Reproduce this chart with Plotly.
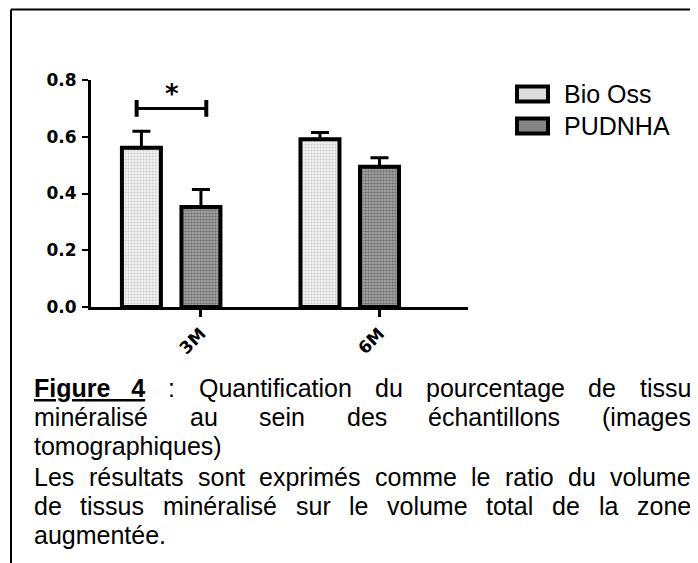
import plotly.graph_objects as go

# ---------------- data ----------------
groups = ["3M", "6M"]
series_names = ["Bio Oss", "PUDNHA"]
bio_oss_mean = [0.561, 0.591]
bio_oss_err = [0.058, 0.024]
pudnha_mean = [0.352, 0.494]
pudnha_err = [0.062, 0.032]
y_tick_vals = [0.0, 0.2, 0.4, 0.6, 0.8]
y_tick_text = ["0.0", "0.2", "0.4", "0.6", "0.8"]
sig_group = 0          # index of group with the significance bracket
sig_level = 0.70
sig_label = "*"

caption_lines = [
    (["Figure 4", ":", "Quantification", "du", "pourcentage", "de", "tissu"], True),
    (["minéralisé", "au", "sein", "des", "échantillons", "(images"], True),
    (["tomographiques)"], False),
    (["Les", "résultats", "sont", "exprimés", "comme", "le", "ratio", "du", "volume"], True),
    (["de", "tissus", "minéralisé", "sur", "le", "volume", "total", "de", "la", "zone"], True),
    (["augmentée."], False),
]

# ---------------- layout geometry (page pixels of the reference) ----------------
W, H = 698, 563
OFF = 8                                  # page body margin of the html output
RL, RR, RT, RB = 91, 468, 80, 307        # plot area edges in page pixels
PL, PR, PT, PB = RL - OFF, RR - OFF, RT - OFF, RB - OFF
GROUP_STEP = 3.0                         # x units between groups
X_MIN, X_MAX = -0.847, 5.487
BAR_W = 0.655


def px_x(p):
    return (p - OFF - PL) / (PR - PL)


def px_y(p):
    return (PB - (p - OFF)) / (PB - PT)


series_means = [bio_oss_mean, pudnha_mean]
series_errs = [bio_oss_err, pudnha_err]
patterns = [
    dict(shape=".", size=3, solidity=0.4, fgcolor="#a8a8a8", bgcolor="#f2f2f2"),
    dict(shape=".", size=3, solidity=0.55, fgcolor="#363636", bgcolor="#b0b0b0"),
]

fig = go.Figure()
for si, name in enumerate(series_names):
    xs = [gi * GROUP_STEP + si for gi in range(len(groups))]
    fig.add_trace(go.Bar(
        x=xs, y=series_means[si], name=name, width=BAR_W,
        marker=dict(color="#cccccc", pattern=patterns[si],
                    line=dict(color="black", width=4)),
        error_y=dict(type="data", array=series_errs[si],
                     arrayminus=[0] * len(groups), symmetric=False,
                     color="black", thickness=3, width=9),
        showlegend=False,
    ))

# significance bracket
gx0 = sig_group * GROUP_STEP
fig.add_trace(go.Scatter(
    x=[gx0 - 0.08, gx0 + 1.09], y=[sig_level, sig_level],
    mode="lines+markers", line=dict(color="black", width=3),
    marker=dict(symbol="line-ns", size=12, line=dict(color="black", width=4)),
    cliponaxis=False, showlegend=False, hoverinfo="skip"))
fig.add_annotation(x=gx0 + 0.51, y=sig_level + 0.05, xref="x", yref="y",
                   text="<b>" + sig_label + "</b>", showarrow=False,
                   font=dict(family="DejaVu Sans", size=26, color="black"))

# x ticks under second bar of each group
tick_x = [gi * GROUP_STEP + 1 for gi in range(len(groups))]

fig.update_layout(
    width=W, height=H,
    margin=dict(l=PL, r=W - PR, t=PT, b=H - PB, pad=0),
    paper_bgcolor="white", plot_bgcolor="white",
    barmode="overlay",
    xaxis=dict(range=[X_MIN, X_MAX], showline=True, linecolor="black", linewidth=3,
               tickmode="array", tickvals=tick_x, ticktext=groups,
               ticks="outside", ticklen=7, tickwidth=3, tickcolor="black",
               tickangle=-45, showgrid=False, zeroline=False,
               tickfont=dict(family="DejaVu Sans", size=17, color="black", weight="bold")),
    yaxis=dict(range=[0, 0.8], showline=True, linecolor="black", linewidth=3,
               tickmode="array", tickvals=y_tick_vals, ticktext=y_tick_text,
               ticks="outside", ticklen=6, tickwidth=2, tickcolor="black",
               showgrid=False, zeroline=False, ticklabelstandoff=2,
               tickfont=dict(family="DejaVu Sans", size=17, color="black", weight="bold")),
)

# frame lines (top and left)
fig.add_shape(type="line", xref="paper", yref="paper",
              x0=px_x(11), x1=px_x(W + OFF), y0=px_y(9.5), y1=px_y(9.5),
              line=dict(color="black", width=2))
fig.add_shape(type="line", xref="paper", yref="paper",
              x0=px_x(11), x1=px_x(11), y0=px_y(9.5), y1=px_y(H + OFF),
              line=dict(color="black", width=2))

# custom legend
legend_fill = ["#dcdcdc", "#858585"]
legend_y = [94, 126]
for si, name in enumerate(series_names):
    cy = legend_y[si]
    fig.add_shape(type="rect", xref="paper", yref="paper",
                  x0=px_x(517), x1=px_x(548), y0=px_y(cy - 7.5), y1=px_y(cy + 7.5),
                  fillcolor=legend_fill[si], line=dict(color="black", width=4))
    fig.add_annotation(x=px_x(562), y=px_y(cy), xref="paper", yref="paper",
                       xanchor="left", yanchor="middle", showarrow=False,
                       text=name, font=dict(family="Liberation Sans, Arial", size=25, color="black"))

# caption with justified lines
AW = {'a': 556, 'b': 556, 'c': 500, 'd': 556, 'e': 556, 'f': 278, 'g': 556, 'h': 556,
      'i': 222, 'j': 222, 'k': 500, 'l': 222, 'm': 833, 'n': 556, 'o': 556, 'p': 556,
      'q': 556, 'r': 333, 's': 500, 't': 278, 'u': 556, 'v': 500, 'w': 722, 'x': 500,
      'y': 500, 'z': 500, 'é': 556, '(': 333, ')': 333, '.': 278, ':': 278, 'L': 556,
      'F': 611, 'Q': 778, ' ': 278, '\u00a0': 278, '4': 556}
AWB = {'F': 611, 'i': 278, 'g': 611, 'u': 611, 'r': 389, 'e': 556, '4': 556,
       ' ': 278, '\u00a0': 278}
CAP_SIZE = 25
CAP_LEFT, CAP_RIGHT = 33, 690
cap_y = [388, 417, 446, 477, 506, 535]


def width(s, bold=False):
    tbl = AWB if bold else AW
    return sum(tbl.get(c, 556) for c in s) * CAP_SIZE / 1000.0


for li, (words, justify) in enumerate(caption_lines):
    toks = []
    for w in words:
        if w == "Figure 4":
            t = "Figure\u00a0\u00a0\u00a04"
            toks.append(("<b><u>" + t + "</u></b>", width(t, True)))
        else:
            toks.append((w, width(w)))
    total = sum(t[1] for t in toks)
    if justify and len(toks) > 1:
        gap = (CAP_RIGHT - CAP_LEFT - total) / (len(toks) - 1)
    else:
        gap = AW[' '] * CAP_SIZE / 1000.0
    x = CAP_LEFT
    for text, wd in toks:
        fig.add_annotation(x=px_x(x), y=px_y(cap_y[li]), xref="paper", yref="paper",
                           xanchor="left", yanchor="middle", showarrow=False,
                           text=text, borderpad=0,
                           font=dict(family="Liberation Sans, Arial", size=CAP_SIZE, color="black"))
        x += wd + gap

fig.write_html("out.html")
